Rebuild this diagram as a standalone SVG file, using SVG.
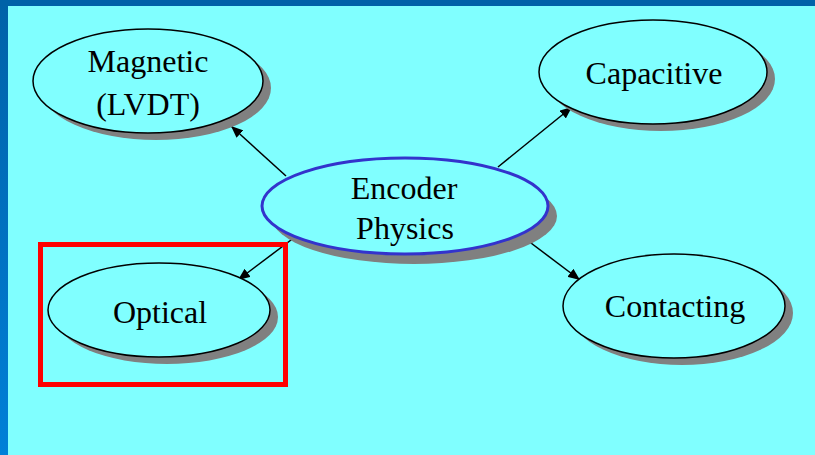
<svg xmlns="http://www.w3.org/2000/svg" width="815" height="455" viewBox="0 0 815 455">
  <defs>
    <linearGradient id="edge" x1="0" y1="0" x2="0" y2="1">
      <stop offset="0" stop-color="#0062A8"/>
      <stop offset="1" stop-color="#0080D8"/>
    </linearGradient>
    <marker id="arr" viewBox="0 0 12 10" refX="12" refY="5" markerWidth="12" markerHeight="10" markerUnits="userSpaceOnUse" orient="auto">
      <path d="M0,0 L12,5 L0,10 Z" fill="#000"/>
    </marker>
  </defs>
  <style>
    .shadow { fill: #808080; }
    .node { fill: #80FFFF; stroke: #000; stroke-width: 1.5; }
    .main { fill: #80FFFF; stroke: #3333CC; stroke-width: 3; }
    .label { font-family: "Liberation Serif", "Times New Roman", serif; font-size: 32px; fill: #000; text-anchor: middle; }
    .conn { stroke: #000; stroke-width: 1.5; fill: none; marker-end: url(#arr); }
  </style>
  <rect x="0" y="0" width="815" height="455" fill="#80FFFF"/>
  <rect x="0" y="0" width="8" height="455" fill="url(#edge)"/>
  <rect x="0" y="0" width="815" height="6" fill="#0062A8"/>

  <g id="connectors">
    <line class="conn" x1="286" y1="176" x2="231" y2="126"/>
    <line class="conn" x1="498" y1="167" x2="572" y2="107"/>
    <line class="conn" x1="295" y1="237" x2="238" y2="280"/>
    <line class="conn" x1="523" y1="237" x2="580" y2="280"/>
  </g>

  <g id="node-magnetic">
    <ellipse class="shadow" cx="156" cy="88" rx="115" ry="52"/>
    <ellipse class="node" cx="148" cy="81" rx="115" ry="52"/>
    <text class="label" x="148" y="72">Magnetic</text>
    <text class="label" x="148" y="115">(LVDT)</text>
  </g>

  <g id="node-capacitive">
    <ellipse class="shadow" cx="661" cy="79" rx="114" ry="52"/>
    <ellipse class="node" cx="653" cy="72" rx="114" ry="52"/>
    <text class="label" x="654" y="84">Capacitive</text>
  </g>

  <g id="node-encoder">
    <ellipse class="shadow" cx="414" cy="216" rx="143" ry="48"/>
    <ellipse class="main" cx="405" cy="206" rx="143" ry="48"/>
    <text class="label" x="404" y="199">Encoder</text>
    <text class="label" x="405" y="239">Physics</text>
  </g>

  <g id="node-optical">
    <ellipse class="shadow" cx="167" cy="317" rx="111" ry="47"/>
    <ellipse class="node" cx="159" cy="310" rx="111" ry="47"/>
    <text class="label" x="160" y="323">Optical</text>
  </g>

  <g id="node-contacting">
    <ellipse class="shadow" cx="682" cy="313" rx="111" ry="52"/>
    <ellipse class="node" cx="674" cy="306" rx="111" ry="52"/>
    <text class="label" x="675" y="317">Contacting</text>
  </g>

  <g id="highlight">
    <rect x="40.5" y="244.5" width="245" height="140" fill="none" stroke="#FF0000" stroke-width="5"/>
  </g>
</svg>
